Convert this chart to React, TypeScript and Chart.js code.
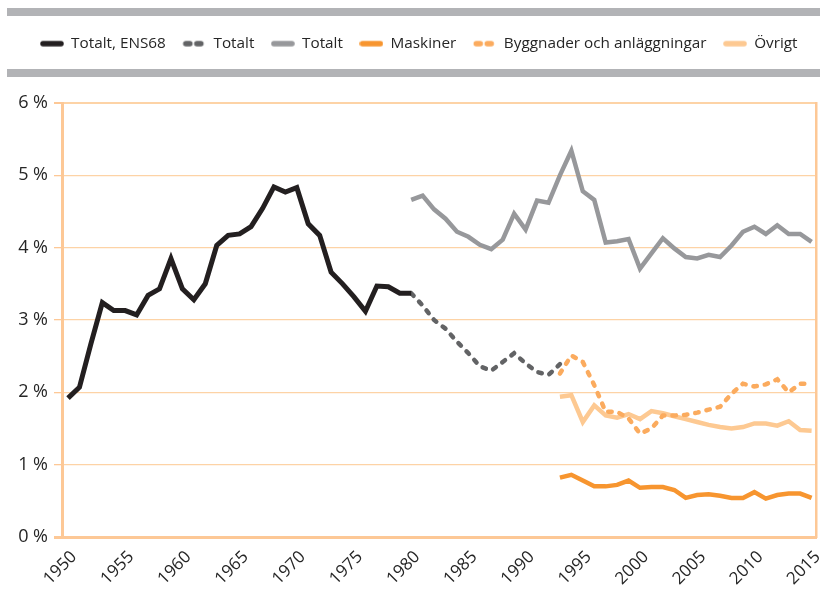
import React, { useEffect, useRef } from "react";
import { Chart, registerables } from "chart.js";

Chart.register(...registerables);

// ---------- data ----------
const xTickYears = [1950, 1955, 1960, 1965, 1970, 1975, 1980, 1985, 1990, 1995, 2000, 2005, 2010, 2015];
const yTickValues = [0, 1, 2, 3, 4, 5, 6];

const yearsENS68 = [1950, 1951, 1952, 1953, 1954, 1955, 1956, 1957, 1958, 1959, 1960, 1961, 1962, 1963, 1964, 1965, 1966, 1967, 1968, 1969, 1970, 1971, 1972, 1973, 1974, 1975, 1976, 1977, 1978, 1979, 1980];
const totaltENS68 = [1.92, 2.07, 2.67, 3.24, 3.13, 3.13, 3.07, 3.34, 3.43, 3.85, 3.43, 3.28, 3.5, 4.03, 4.17, 4.19, 4.29, 4.54, 4.84, 4.77, 4.83, 4.33, 4.17, 3.66, 3.5, 3.32, 3.12, 3.47, 3.46, 3.37, 3.37];

const yearsTotaltOld = [1980, 1981, 1982, 1983, 1984, 1985, 1986, 1987, 1988, 1989, 1990, 1991, 1992, 1993];
const totaltOld = [3.37, 3.2, 3.0, 2.88, 2.7, 2.54, 2.36, 2.3, 2.42, 2.54, 2.4, 2.28, 2.24, 2.39];

const yearsTotalt = [1980, 1981, 1982, 1983, 1984, 1985, 1986, 1987, 1988, 1989, 1990, 1991, 1992, 1993, 1994, 1995, 1996, 1997, 1998, 1999, 2000, 2001, 2002, 2003, 2004, 2005, 2006, 2007, 2008, 2009, 2010, 2011, 2012, 2013, 2014, 2015];
const totalt = [4.66, 4.72, 4.53, 4.4, 4.22, 4.15, 4.04, 3.98, 4.11, 4.47, 4.25, 4.65, 4.62, 5.0, 5.34, 4.78, 4.66, 4.07, 4.09, 4.12, 3.71, 3.92, 4.13, 3.99, 3.87, 3.85, 3.9, 3.87, 4.03, 4.22, 4.29, 4.19, 4.31, 4.19, 4.19, 4.08];

const yearsParts = [1993, 1994, 1995, 1996, 1997, 1998, 1999, 2000, 2001, 2002, 2003, 2004, 2005, 2006, 2007, 2008, 2009, 2010, 2011, 2012, 2013, 2014, 2015];
const maskiner = [0.82, 0.86, 0.78, 0.7, 0.7, 0.72, 0.78, 0.68, 0.69, 0.69, 0.65, 0.54, 0.58, 0.59, 0.57, 0.54, 0.54, 0.62, 0.53, 0.58, 0.6, 0.6, 0.54];
const byggnader = [2.26, 2.51, 2.42, 2.1, 1.73, 1.73, 1.64, 1.43, 1.5, 1.68, 1.68, 1.69, 1.72, 1.76, 1.8, 1.98, 2.12, 2.08, 2.11, 2.18, 2.0, 2.12, 2.12];
const ovrigt = [1.94, 1.96, 1.59, 1.82, 1.68, 1.65, 1.7, 1.63, 1.74, 1.71, 1.67, 1.63, 1.59, 1.55, 1.52, 1.5, 1.52, 1.57, 1.57, 1.54, 1.6, 1.48, 1.47];

const seriesLabels = ["Totalt, ENS68", "Totalt", "Totalt", "Maskiner", "Byggnader och anläggningar", "Övrigt"];

// ---------- styles ----------
const FONT = "'Open Sans', 'DejaVu Sans', sans-serif";
const TEXT = "#262626";
const GRID = "#fdd3a6";
const FRAME = "#fdc896";
const BAR = "#b2b3b6";

const zip = (xs: number[], ys: number[]) => xs.map((x, i) => ({ x, y: ys[i] }));

function makeSample(color: string, dashed: boolean): HTMLCanvasElement {
  const c = document.createElement("canvas");
  c.width = 24;
  c.height = 8;
  const g = c.getContext("2d")!;
  g.strokeStyle = color;
  g.lineWidth = 5.5;
  g.lineCap = "round";
  g.beginPath();
  if (dashed) {
    g.moveTo(3.5, 4);
    g.lineTo(7.5, 4);
    g.moveTo(14.5, 4);
    g.lineTo(18.5, 4);
  } else {
    g.moveTo(3, 4);
    g.lineTo(21, 4);
  }
  g.stroke();
  return c;
}

const barsPlugin = {
  id: "bars",
  beforeDraw(chart: any) {
    const { ctx } = chart;
    ctx.save();
    ctx.fillStyle = BAR;
    ctx.fillRect(7, 8, 813, 8);
    ctx.fillRect(7, 69, 813, 8);
    ctx.restore();
  },
};

const legendSpacer = {
  id: "legendSpacer",
  beforeUpdate(chart: any) {
    const lg = chart.legend;
    if (lg && !lg._patched) {
      const origFit = lg.fit;
      lg.fit = function () {
        origFit.call(this);
        this.height = 84;
      };
      const origDraw = lg.draw;
      lg.draw = function () {
        const ctx = this.ctx;
        ctx.save();
        ctx.translate(11, 0);
        origDraw.call(this);
        ctx.restore();
      };
      lg._patched = true;
    }
  },
};

export default function App() {
  const ref = useRef<HTMLCanvasElement | null>(null);

  useEffect(() => {
    if (!ref.current) return;
    const mk = (label: string, xs: number[], ys: number[], color: string, width: number, dashed: boolean) => ({
      label,
      data: zip(xs, ys),
      borderColor: color,
      backgroundColor: color,
      borderWidth: width,
      borderDash: dashed ? [3.5, 8] : [],
      borderCapStyle: dashed ? "round" : "butt",
      borderJoinStyle: "miter",
      pointRadius: 0,
      pointHoverRadius: 0,
      tension: 0,
      fill: false,
      _dashed: dashed,
    });

    const datasets = [
      mk(seriesLabels[0], yearsENS68, totaltENS68, "#231f20", 5, false),
      mk(seriesLabels[1], yearsTotaltOld, totaltOld, "#626365", 4.5, true),
      mk(seriesLabels[2], yearsTotalt, totalt, "#97989b", 4.5, false),
      mk(seriesLabels[3], yearsParts, maskiner, "#f7952f", 4.5, false),
      mk(seriesLabels[4], yearsParts, byggnader, "#fbab5e", 4.5, true),
      mk(seriesLabels[5], yearsParts, ovrigt, "#fdc992", 4.5, false),
    ];

    const chart = new Chart(ref.current, {
      type: "line",
      data: { datasets: datasets as any },
      plugins: [barsPlugin, legendSpacer],
      options: {
        animation: false,
        responsive: false,
        events: [],
        layout: { padding: { left: 0, right: 4, top: 19, bottom: 0 } },
        plugins: {
          tooltip: { enabled: false },
          legend: {
            display: true,
            position: "top",
            align: "center",
            labels: {
              usePointStyle: true,
              pointStyleWidth: 23,
              padding: 17,
              font: { family: FONT, size: 15.3 },
              color: TEXT,
              generateLabels: (ch: any) =>
                ch.data.datasets.map((ds: any, i: number) => ({
                  text: ds.label,
                  pointStyle: makeSample(ds.borderColor, ds._dashed),
                  datasetIndex: i,
                  hidden: false,
                  fillStyle: "transparent",
                  strokeStyle: "transparent",
                  lineWidth: 0,
                  fontColor: TEXT,
                })),
            },
          },
        },
        scales: {
          x: {
            type: "linear",
            min: 1949.475,
            max: 2015.385,
            afterBuildTicks: (s: any) => {
              s.ticks = xTickYears.map((v) => ({ value: v }));
            },
            afterFit: (s: any) => {
              s.height = 53;
              s.paddingLeft = 0;
              s.paddingRight = 0;
            },
            ticks: {
              autoSkip: false,
              maxRotation: 45,
              minRotation: 45,
              padding: 10,
              labelOffset: 6,
              color: TEXT,
              font: { family: FONT, size: 17 },
              callback: (v: any) => String(v),
            },
            grid: { display: false, drawTicks: false },
            border: { display: true, color: FRAME, width: 3 },
          },
          y: {
            type: "linear",
            min: 0,
            max: 6,
            afterBuildTicks: (s: any) => {
              s.ticks = yTickValues.map((v) => ({ value: v }));
            },
            afterFit: (s: any) => {
              s.width = 62;
            },
            ticks: {
              padding: 6,
              color: TEXT,
              font: { family: FONT, size: 18 },
              callback: (v: any) => `${v} %`,
            },
            grid: {
              color: GRID,
              tickColor: FRAME,
              tickLength: 8,
              lineWidth: (c: any) => (c.tick && c.tick.value === 6 ? 2 : c.tick && c.tick.value === 0 ? 3 : 1.3),
            },
            border: { display: true, color: FRAME, width: 3 },
          },
          yRight: {
            type: "linear",
            position: "right",
            min: 0,
            max: 6,
            afterFit: (s: any) => {
              s.width = 0;
            },
            ticks: { display: false },
            grid: { display: false, drawTicks: false },
            border: { display: true, color: FRAME, width: 2.5 },
          },
        },
      } as any,
    });
    return () => chart.destroy();
  }, []);

  return (
    <div style={{ position: "absolute", left: 0, top: 0, width: 820, height: 590, background: "#fff" }}>
      <canvas ref={ref} width={820} height={590} style={{ display: "block" }} />
    </div>
  );
}
